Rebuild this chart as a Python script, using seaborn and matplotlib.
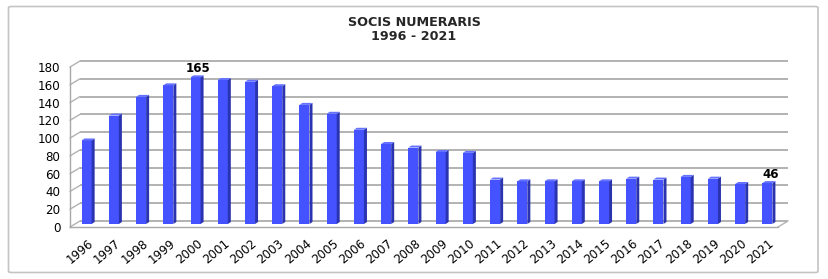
import numpy as np
import pandas as pd
import matplotlib
matplotlib.use("Agg")
import matplotlib.pyplot as plt
import seaborn as sns
from matplotlib.patches import Polygon, FancyBboxPatch
from matplotlib.transforms import ScaledTranslation

# ---- data ----
years = ["1996", "1997", "1998", "1999", "2000", "2001", "2002", "2003", "2004",
         "2005", "2006", "2007", "2008", "2009", "2010", "2011", "2012", "2013",
         "2014", "2015", "2016", "2017", "2018", "2019", "2020", "2021"]
socis = [94, 122, 143, 156, 165, 162, 160, 155, 134, 124, 106, 90, 86, 81, 80,
         50, 48, 48, 48, 48, 51, 50, 53, 51, 45, 46]
y_ticks = [0, 20, 40, 60, 80, 100, 120, 140, 160, 180]
labelled_years = ["2000", "2021"]
title_lines = ["SOCIS NUMERARIS", "1996 - 2021"]

# ---- style ----
sns.set_style("white")
plt.rcParams["font.family"] = ["DejaVu Sans"]

W, H = 829, 279
fig = plt.figure(figsize=(W / 100, H / 100), dpi=100)
fig.patch.set_facecolor("white")

# front plane of the 3-D box (pixels)
ax_l, ax_r, ax_b, ax_t = 70, 778, 227, 67
ax = fig.add_axes([ax_l / W, (H - ax_b) / H, (ax_r - ax_l) / W, (ax_b - ax_t) / H])

df = pd.DataFrame({"year": years, "socis": socis})
sns.barplot(data=df, x="year", y="socis", color="#4452FF", saturation=1,
            width=0.37, edgecolor="none", linewidth=0, ax=ax, zorder=3)

n = len(years)
ax.set_xlim(-0.5, n - 0.5)
ax.set_ylim(0, y_ticks[-1])

# pixel -> data conversion
px_x = n / (ax_r - ax_l)
px_y = y_ticks[-1] / (ax_b - ax_t)

back_dx, back_dy = 10 * px_x, 6 * px_y      # back wall offset
mid_dx, mid_dy = 3 * px_x, 3 * px_y         # bars sit mid-depth
dep_dx, dep_dy = 3 * px_x, 2 * px_y         # bar depth

grid_c = "#b2b2b2"
# back wall grid lines + left wall diagonals
for t in y_ticks:
    ax.plot([-0.5 + back_dx, n - 0.5 + back_dx], [t + back_dy, t + back_dy],
            color=grid_c, lw=1.4, clip_on=False, zorder=0.5, solid_capstyle="butt")
    ax.plot([-0.5, -0.5 + back_dx], [t, t + back_dy],
            color=grid_c, lw=1.0, clip_on=False, zorder=0.5)
# right floor diagonal
ax.plot([n - 0.5, n - 0.5 + back_dx], [0, back_dy], color=grid_c, lw=1.0,
        clip_on=False, zorder=0.5)

# 3-D bars: move to mid depth, add side and top faces
for p in list(ax.patches):
    p.set_x(p.get_x() + mid_dx)
    p.set_y(p.get_y() + mid_dy)
    x0, y0 = p.get_x(), p.get_y()
    w, h = p.get_width(), p.get_height()
    side = Polygon([(x0 + w, y0), (x0 + w + dep_dx, y0 + dep_dy),
                    (x0 + w + dep_dx, y0 + h + dep_dy), (x0 + w, y0 + h)],
                   closed=True, fc="#2A33B0", ec="none", zorder=3, clip_on=False)
    top = Polygon([(x0, y0 + h), (x0 + w, y0 + h),
                   (x0 + w + dep_dx, y0 + h + dep_dy), (x0 + dep_dx, y0 + h + dep_dy)],
                  closed=True, fc="#6472FF", ec="none", zorder=3, clip_on=False)
    ax.add_patch(side)
    ax.add_patch(top)
    p.set_clip_on(False)

# value labels
for yr in labelled_years:
    i = years.index(yr)
    p = ax.patches[i]
    ax.annotate(str(socis[i]),
                xy=(p.get_x() + p.get_width() / 2 + dep_dx / 2, p.get_y() + p.get_height()),
                xytext=(1, 1.8), textcoords="offset points", ha="center", va="bottom",
                fontsize=8.6, fontweight="bold", color="black", annotation_clip=False)

# spines & ticks
for s in ["top", "right"]:
    ax.spines[s].set_visible(False)
for s in ["left", "bottom"]:
    ax.spines[s].set_color("#a8a8a8")
    ax.spines[s].set_linewidth(1.0)

ax.set_yticks(y_ticks)
ax.set_yticklabels([str(t) for t in y_ticks])
ax.tick_params(axis="y", length=3, width=1, color="#a8a8a8", labelsize=8.6,
               labelcolor="black", pad=4, direction="out")
ax.set_xticks(range(n))
ax.set_xticklabels(years, rotation=40, ha="right", rotation_mode="anchor")
ax.tick_params(axis="x", which="major", length=0, labelsize=8.6, pad=7, labelcolor="black")
shift = ScaledTranslation(4 / 100, 0, fig.dpi_scale_trans)
for lab in ax.get_xticklabels():
    lab.set_transform(lab.get_transform() + shift)
ax.set_xticks(np.arange(-0.5, n, 1.0), minor=True)
ax.tick_params(axis="x", which="minor", length=4, width=1, color="#a8a8a8", direction="out")
ax.set_xlabel("")
ax.set_ylabel("")
ax.grid(False)
ax.set_facecolor("none")

# title
fig.text(414 / W, 1 - 22.5 / H, title_lines[0], ha="center", va="center",
         fontsize=9.2, fontweight="bold")
fig.text(414 / W, 1 - 36.5 / H, title_lines[1], ha="center", va="center",
         fontsize=9.2, fontweight="bold")

# outer border
fig.patches.append(FancyBboxPatch((8.5 / W, 6.5 / H), 809.5 / W, 266 / H,
                                  boxstyle="round,pad=0,rounding_size=0.004",
                                  transform=fig.transFigure, fc="none",
                                  ec="#c4c4c4", lw=1.2))

fig.savefig("out.png", dpi=100)
